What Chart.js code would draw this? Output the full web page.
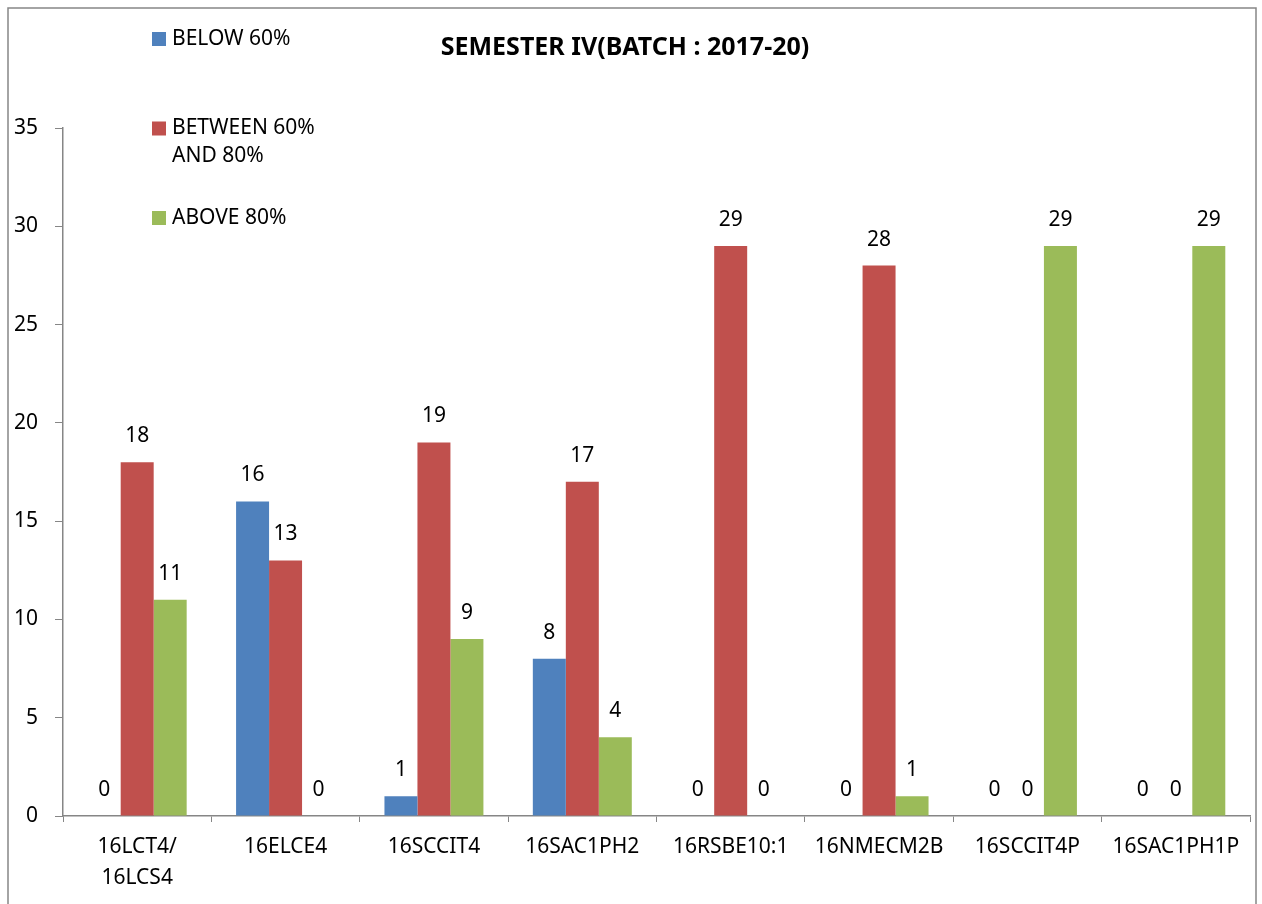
<!DOCTYPE html>
<html>
<head>
<meta charset="utf-8">
<script src="https://cdn.jsdelivr.net/npm/chart.js@4"></script>
<style>
  body { margin: 0; background: #fff; }
</style>
</head>
<body>
<canvas id="myChart" width="1262" height="904"></canvas>
<script>
var categories = [['16LCT4/', '16LCS4'], '16ELCE4', '16SCCIT4', '16SAC1PH2', '16RSBE10:1', '16NMECM2B', '16SCCIT4P', '16SAC1PH1P'];
var below60 = [0, 16, 1, 8, 0, 0, 0, 0];
var between60and80 = [18, 13, 19, 17, 29, 28, 0, 0];
var above80 = [11, 0, 9, 4, 0, 1, 29, 29];
var seriesNames = [['BELOW 60%'], ['BETWEEN 60%', 'AND 80%'], ['ABOVE 80%']];
var seriesColors = ['#4F81BD', '#C0504D', '#9BBB59'];
var yTicks = [0, 5, 10, 15, 20, 25, 30, 35];

Chart.defaults.font.family = '"Noto Sans", sans-serif';
Chart.defaults.font.size = 21;
Chart.defaults.color = '#000';

// outer frame like the office chart border
var frame = {
    id: 'frame',
    beforeDraw: function (chart) {
        var c = chart.ctx;
        c.save();
        c.fillStyle = '#fff';
        c.fillRect(0, 0, chart.width, chart.height);
        c.strokeStyle = '#868686';
        c.lineWidth = 1.5;
        c.strokeRect(8, 8, 1248, 1000);
        c.restore();
    }
};

// value labels above each bar
var valueLabels = {
    id: 'valueLabels',
    afterDatasetsDraw: function (chart) {
        var c = chart.ctx;
        c.save();
        c.font = '21px "Noto Sans", sans-serif';
        c.fillStyle = '#000';
        c.textAlign = 'center';
        c.textBaseline = 'middle';
        chart.data.datasets.forEach(function (ds, i) {
            chart.getDatasetMeta(i).data.forEach(function (bar, j) {
                c.fillText(ds.data[j], bar.x, bar.y - 26);
            });
        });
        c.restore();
    }
};

// legend stacked at top-left, with wrapped text
var sideLegend = {
    id: 'sideLegend',
    afterDraw: function (chart) {
        var c = chart.ctx;
        c.save();
        c.font = '21px "Noto Sans", sans-serif';
        c.textAlign = 'left';
        c.textBaseline = 'middle';
        seriesNames.forEach(function (lines, i) {
            var y = 39 + i * 89.5;
            c.fillStyle = seriesColors[i];
            c.fillRect(152, y - 7, 14, 14);
            c.fillStyle = '#000';
            lines.forEach(function (t, k) {
                c.fillText(t, 172, y + k * 28);
            });
        });
        c.restore();
    }
};

var ctx = document.getElementById('myChart').getContext('2d');
var myChart = new Chart(ctx, {
    type: 'bar',
    data: {
        labels: categories,
        datasets: [
            { label: seriesNames[0].join(' '), data: below60, backgroundColor: seriesColors[0] },
            { label: seriesNames[1].join(' '), data: between60and80, backgroundColor: seriesColors[1] },
            { label: seriesNames[2].join(' '), data: above80, backgroundColor: seriesColors[2] }
        ]
    },
    options: {
        responsive: false,
        animation: false,
        categoryPercentage: 0.667,
        barPercentage: 1,
        layout: { padding: { top: 0, left: 0, right: 12, bottom: 0 } },
        plugins: {
            legend: { display: false },
            tooltip: { enabled: false },
            title: {
                display: true,
                text: 'SEMESTER IV(BATCH : 2017-20)',
                font: { size: 25, weight: 'bold' },
                color: '#000',
                padding: { top: 33, bottom: 65 }
            }
        },
        scales: {
            x: {
                grid: { drawOnChartArea: false, tickLength: 6, color: '#868686', offset: true },
                border: { display: true, color: '#868686', width: 1.5 },
                ticks: { padding: 10, maxRotation: 0, autoSkip: false, font: { size: 21, lineHeight: 1.45 } },
                afterFit: function (scale) { scale.height = 88; }
            },
            y: {
                min: 0,
                max: 35,
                afterBuildTicks: function (scale) {
                    scale.ticks = yTicks.map(function (v) { return { value: v }; });
                },
                grid: { drawOnChartArea: false, tickLength: 8, color: '#868686' },
                border: { display: true, color: '#868686', width: 1.5 },
                ticks: { padding: 17, font: { size: 21 } },
                afterFit: function (scale) { scale.width = 63; }
            }
        }
    },
    plugins: [frame, valueLabels, sideLegend]
});
</script>
</body>
</html>
